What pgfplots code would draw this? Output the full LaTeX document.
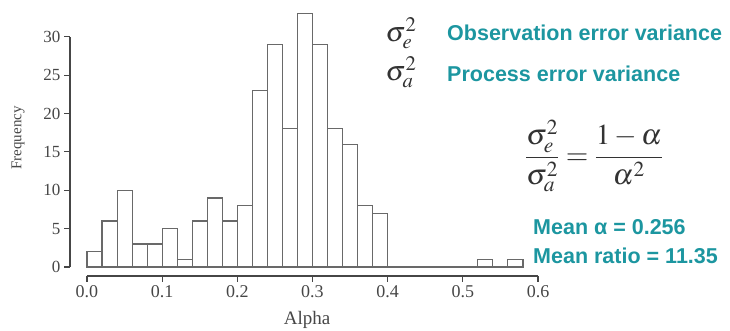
\documentclass[border=0pt]{standalone}
\usepackage{mathptmx}
\usepackage{fontspec}
\setmainfont{Liberation Serif}
\newfontfamily\annot{Liberation Sans}
\usepackage{pgfplots}
\pgfplotsset{compat=1.18}
\definecolor{tealtxt}{RGB}{28,150,160}
\definecolor{axgray}{RGB}{70,70,70}
\definecolor{bargray}{RGB}{105,105,105}
\begin{document}
\begin{tikzpicture}
\useasboundingbox (0,0) rectangle (730pt,331pt);
\begin{axis}[
  at={(70pt,55pt)}, anchor=south west,
  scale only axis, width=468pt, height=276pt,
  xmin=-0.0226, xmax=0.6, ymin=-1.17, ymax=34.8,
  axis x line*=bottom, axis y line*=left,
  axis line style={draw=none},
  tick align=outside, major tick length=6pt,
  every tick/.style={axgray, line width=1.1pt},
  xtick={0,0.1,0.2,0.3,0.4,0.5,0.6},
  ytick={0,5,10,15,20,25,30},
  /pgf/number format/assume math mode=true,
  xticklabel style={/pgf/number format/fixed,/pgf/number format/precision=1,/pgf/number format/fixed zerofill, font=\fontsize{18}{20}\selectfont},
  yticklabel style={font=\fontsize{17}{20}\selectfont},
  ticklabel style={text=axgray},
  clip=false,
]
\addplot[ybar interval, fill=white, draw=bargray, line width=1.1pt] coordinates {
(0.00,2) (0.02,6) (0.04,10) (0.06,3) (0.08,3) (0.10,5) (0.12,1) (0.14,6)
(0.16,9) (0.18,6) (0.20,8) (0.22,23) (0.24,29) (0.26,18) (0.28,33) (0.30,29)
(0.32,18) (0.34,16) (0.36,8) (0.38,7) (0.40,0) (0.42,0) (0.44,0) (0.46,0)
(0.48,0) (0.50,0) (0.52,1) (0.54,0) (0.56,1) (0.58,1)
};
\draw[axgray, line width=1.1pt] (axis cs:0,-1.17) -- (axis cs:0.6,-1.17);
\draw[axgray, line width=1.1pt] (axis cs:-0.0226,0) -- (axis cs:-0.0226,30);
\end{axis}
\node[text=axgray, font=\fontsize{19}{22}\selectfont] at (307pt,11pt) {Alpha};
\node[text=axgray, rotate=90, font=\fontsize{15}{18}\selectfont] at (18pt,193pt) {Frequency};
\node[text=black!80, font=\fontsize{28}{32}\selectfont] at (401pt,298pt) {$\sigma_e^2$};
\node[text=black!80, font=\fontsize{28}{32}\selectfont] at (401pt,259pt) {$\sigma_a^2$};
\node[anchor=west, inner sep=0pt, text=tealtxt, font=\annot\bfseries\fontsize{21.5}{24}\selectfont] at (447pt,298pt) {Observation error variance};
\node[anchor=west, inner sep=0pt, text=tealtxt, font=\annot\bfseries\fontsize{21.5}{24}\selectfont] at (447pt,257pt) {Process error variance};
\node[text=black!80, font=\fontsize{29}{33}\selectfont] at (594pt,175pt) {$\displaystyle\frac{\sigma_e^2}{\sigma_a^2}=\frac{1-\alpha}{\alpha^2}$};
\node[anchor=west, inner sep=0pt, text=tealtxt, font=\annot\bfseries\fontsize{21.5}{24}\selectfont] at (533pt,104pt) {Mean α = 0.256};
\node[anchor=west, inner sep=0pt, text=tealtxt, font=\annot\bfseries\fontsize{21.5}{24}\selectfont] at (533pt,75pt) {Mean ratio = 11.35};
\end{tikzpicture}
\end{document}
